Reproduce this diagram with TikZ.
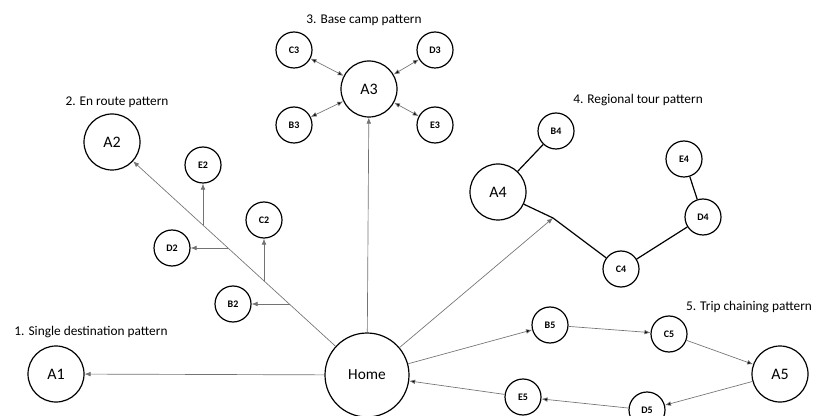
\documentclass[tikz,border=0pt]{standalone}
\usepackage{fontspec}
\setmainfont{Carlito}
\usetikzlibrary{positioning, arrows.meta}
\tikzset {
    x=0.75pt, y=-0.75pt,
    >={Latex[length=4.5pt, width=3.5pt]},
    place/.style={circle, draw, line width=0.9pt, inner sep=0pt},
    home/.style={place, minimum size=63pt, font=\fontsize{11.5}{12}\selectfont},
    big/.style={place, minimum size=42pt, font=\fontsize{12}{12}\selectfont},
    small/.style={place, minimum size=27pt, font=\fontsize{7.5}{8}\selectfont\bfseries},
    title/.style={font=\fontsize{10}{11}\selectfont},
    link/.style={->, draw=black!55, line width=0.5pt},
    tour/.style={line width=0.9pt}
}

\begin{document}
\begin{tikzpicture}
    \clip (0,0) rectangle (816,416);
    \useasboundingbox (0,0) rectangle (816,416);

    % centre
    \node[home] (home) at (367,375) {Home};

    % 1. single destination
    \node[title] (t1) at (91,332) {1. Single destination pattern};
    \node[big] (A1) at (56,374) {A1};

    % 2. en route
    \node[title] (t2) at (117,102) {2. En route pattern};
    \node[big] (A2) at (112,142) {A2};
    \node[small] (B2) at (233,304) {B2};
    \node[small] (C2) at (264,220) {C2};
    \node[small] (D2) at (172,248) {D2};
    \node[small] (E2) at (203,165) {E2};
    \coordinate (jB2) at (290,304);
    \coordinate (jC2) at (264,281);
    \coordinate (jD2) at (228,248);
    \coordinate (jE2) at (203,225);

    % 3. base camp
    \node[title] (t3) at (364,20) {3. Base camp pattern};
    \node[big] (A3) at (369,89) {A3};
    \node[small] (B3) at (294,125) {B3};
    \node[small] (C3) at (294,50) {C3};
    \node[small] (D3) at (435,50) {D3};
    \node[small] (E3) at (435,125) {E3};

    % 4. regional tour
    \node[title] (t4) at (638,100) {4. Regional tour pattern};
    \node[big] (A4) at (498,192) {A4};
    \node[small] (B4) at (556,131) {B4};
    \node[small] (C4) at (621,269) {C4};
    \node[small] (D4) at (703,217) {D4};
    \node[small] (E4) at (684,159) {E4};
    \coordinate (j4) at (553,218);

    % 5. trip chaining
    \node[title] (t5) at (749,307) {5. Trip chaining pattern};
    \node[big] (A5) at (780,374) {A5};
    \node[small] (B5) at (550,325) {B5};
    \node[small] (C5) at (669,334) {C5};
    \node[small] (D5) at (647,410) {D5};
    \node[small] (E5) at (523,397) {E5};

    \draw[link] (home) -- (A1);
    \draw[link] (home) -- (A2);
    \draw[link] (jB2) -- (B2);
    \draw[link] (jC2) -- (C2);
    \draw[link] (jD2) -- (D2);
    \draw[link] (jE2) -- (E2);

    \draw[link] (home) -- (A3);
    \draw[link, <->]
        (A3) edge (B3)
        (A3) edge (C3)
        (A3) edge (D3)
        (A3) edge (E3);

    \draw[link] (home) -- (j4);
    \draw[tour] (A4) -- (B4);
    \draw[tour] (A4) -- (j4) -- (C4);
    \draw[tour] (C4) -- (D4) -- (E4);

    \draw[link]
        (home) edge (B5)
        (B5) edge (C5)
        (C5) edge (A5)
        (A5) edge (D5)
        (D5) edge (E5)
        (E5) edge (home);
\end{tikzpicture}
\end{document}
